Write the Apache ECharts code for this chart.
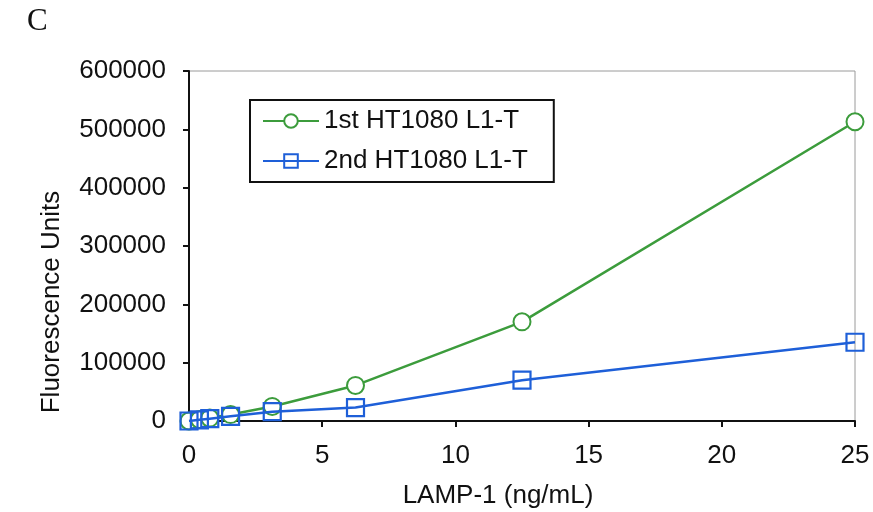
<!DOCTYPE html>
<html>
<head>
<meta charset="utf-8">
<script src="https://cdn.jsdelivr.net/npm/echarts@6/dist/echarts.min.js"></script>
<style>html,body{margin:0;padding:0;background:#fff}#c{width:873px;height:512px}</style>
</head>
<body>
<div id="c"></div>
<script>
const concentrations = [0, 0.39, 0.78, 1.56, 3.125, 6.25, 12.5, 25];
const firstHT1080 = [0, 2500, 5000, 11000, 25000, 61000, 170000, 513000];
const secondHT1080 = [0, 2000, 4000, 8000, 16000, 23000, 70000, 135000];
const seriesNames = ['1st HT1080 L1-T', '2nd HT1080 L1-T'];
const xTitle = 'LAMP-1 (ng/mL)';
const yTitle = 'Fluorescence Units';
const panelLabel = 'C';

const pairs = (xs, ys) => xs.map((x, i) => [x, ys[i]]);
const font = 'Liberation Sans, Arial, sans-serif';
const chart = echarts.init(document.getElementById('c'), null, {renderer: 'canvas'});
chart.setOption({
  animation: false,
  backgroundColor: '#fff',
  grid: {left: 189, right: 18, top: 71, bottom: 91, show: true, borderColor: '#9a9a9a', borderWidth: 1},
  xAxis: {
    type: 'value', min: 0, max: 25, interval: 5,
    axisLine: {show: true, lineStyle: {color: '#111', width: 2}},
    axisTick: {show: true, inside: false, length: 6, lineStyle: {color: '#111', width: 2}},
    axisLabel: {color: '#111', fontSize: 26, fontFamily: font, margin: 22},
    splitLine: {show: false}
  },
  yAxis: {
    type: 'value', min: 0, max: 600000, interval: 100000,
    axisLine: {show: true, lineStyle: {color: '#111', width: 2}},
    axisTick: {show: true, inside: false, length: 6, lineStyle: {color: '#111', width: 2}},
    axisLabel: {color: '#111', fontSize: 26, fontFamily: font, margin: 23, formatter: v => String(v)},
    splitLine: {show: false}
  },
  legend: {
    orient: 'vertical', left: 250, top: 100,
    data: seriesNames,
    borderColor: '#111', borderWidth: 2, padding: [8, 26, 8, 12],
    itemWidth: 56, itemHeight: 17, itemGap: 14,
    textStyle: {color: '#111', fontSize: 26, fontFamily: font}
  },
  series: [
    {name: seriesNames[0], type: 'line', data: pairs(concentrations, firstHT1080),
     symbol: 'emptyCircle', symbolSize: 17, color: '#3c9c3c',
     lineStyle: {width: 2.5, color: '#3c9c3c'}, itemStyle: {color: '#3c9c3c', borderWidth: 2.2}, z: 3},
    {name: seriesNames[1], type: 'line', data: pairs(concentrations, secondHT1080),
     symbol: 'rect', symbolSize: 17, color: '#1e5fd8',
     lineStyle: {width: 2.5, color: '#1e5fd8'}, itemStyle: {color: 'rgba(0,0,0,0)', borderColor: '#1e5fd8', borderWidth: 2.2}, z: 4}
  ],
  graphic: [
    {type: 'text', left: 27, top: 6, style: {text: panelLabel, fontSize: 31, fontFamily: 'Liberation Serif, serif', fill: '#111'}},
    {type: 'text', x: 498, y: 496, style: {text: xTitle, fontSize: 26, fontFamily: font, fill: '#111', align: 'center', verticalAlign: 'middle'}},
    {type: 'text', x: 52, y: 302, rotation: Math.PI / 2, style: {text: yTitle, fontSize: 26, fontFamily: font, fill: '#111', align: 'center', verticalAlign: 'middle'}}
  ]
});
</script>
</body>
</html>
